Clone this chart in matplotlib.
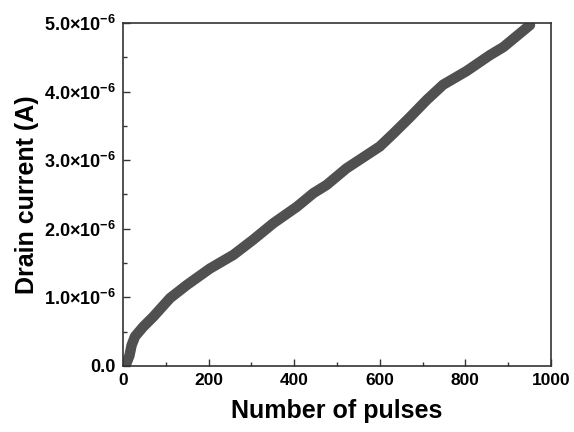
import numpy as np
import matplotlib
matplotlib.use("Agg")
import matplotlib.pyplot as plt
from matplotlib.ticker import FixedLocator, MultipleLocator

plt.rcParams['font.family'] = ['Liberation Sans', 'DejaVu Sans']
plt.rcParams['font.weight'] = 'bold'
plt.rcParams['mathtext.fontset'] = 'custom'
plt.rcParams['mathtext.rm'] = 'Liberation Sans:bold'
plt.rcParams['mathtext.default'] = 'rm'

# pulse number vs drain current (x1e-6 A)
pulses = [5, 8, 15, 20, 28, 47, 71, 110, 149, 203, 258, 281, 304, 351,
          406, 445, 476, 522, 600, 632, 671, 710, 748, 803, 857, 889, 951]
current = [0.00, 0.04, 0.15, 0.30, 0.43, 0.57, 0.72, 0.99, 1.18, 1.42, 1.62,
           1.73, 1.84, 2.08, 2.32, 2.52, 2.64, 2.88, 3.20, 3.39, 3.63, 3.88,
           4.10, 4.30, 4.53, 4.65, 4.97]

y_ticks = [0, 1, 2, 3, 4, 5]
y_labels = ["0.0", r"1.0×10$^{-6}$", r"2.0×10$^{-6}$", r"3.0×10$^{-6}$",
            r"4.0×10$^{-6}$", r"5.0×10$^{-6}$"]

fig = plt.figure(figsize=(5.74, 4.32), dpi=100)
ax = fig.add_axes([0.2143, 0.1528, 0.7456, 0.794])

x = np.array(pulses)
y = np.array(current) * 1e-6
ax.plot(x, y, color="#505050", linewidth=7.5, solid_capstyle="round",
        solid_joinstyle="round")

ax.set_xlim(0, 1000)
ax.set_ylim(0, 5e-6)
ax.xaxis.set_major_locator(MultipleLocator(200))
ax.xaxis.set_minor_locator(MultipleLocator(100))
ax.yaxis.set_major_locator(FixedLocator([v * 1e-6 for v in y_ticks]))
ax.yaxis.set_minor_locator(MultipleLocator(0.5e-6))
ax.set_yticklabels(y_labels)

ax.tick_params(which="both", direction="in", top=False, right=False,
               width=1.0, color="#333333")
ax.tick_params(axis="x", labelsize=12.5)
ax.tick_params(axis="y", labelsize=13)
ax.tick_params(which="major", length=5, pad=5)
ax.tick_params(which="minor", length=3)
for s in ax.spines.values():
    s.set_linewidth(1.2)
    s.set_color("#333333")

ax.set_xlabel("Number of pulses", fontsize=18, fontweight="bold", labelpad=8)
ax.set_ylabel("Drain current (A)", fontsize=18, fontweight="bold", labelpad=4)

plt.savefig("out.png", dpi=100)
plt.close()
